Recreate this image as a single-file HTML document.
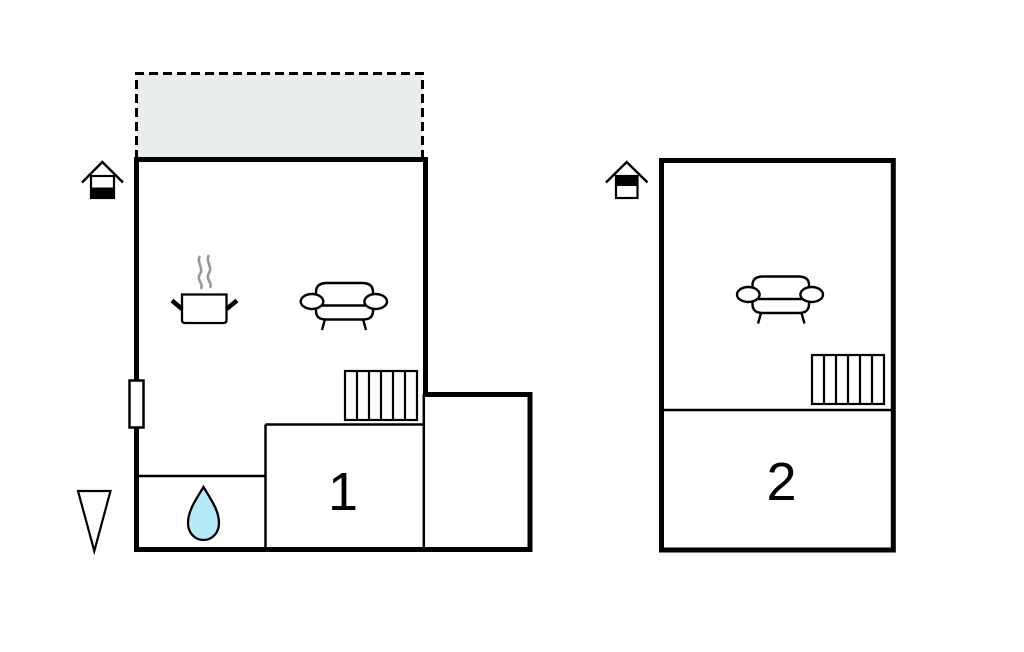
<!DOCTYPE html>
<html><head><meta charset="utf-8"><style>
html,body{margin:0;padding:0;background:#fff;}
svg{display:block;}
</style></head><body>
<svg width="1024" height="652" viewBox="0 0 1024 652" xmlns="http://www.w3.org/2000/svg">
<rect width="1024" height="652" fill="#fff"/>
<!-- terrace dashed -->
<rect x="136.5" y="73.5" width="286" height="86" fill="#e9eded" stroke="none"/>
<path d="M136.5 159 V73.5 H422.5 V159" fill="none" stroke="#000" stroke-width="3" stroke-dasharray="9,5"/>

<!-- building 1 thick walls -->
<g stroke="#000" stroke-width="5" fill="none" stroke-linecap="square">
<line x1="136.5" y1="159.5" x2="425.5" y2="159.5"/>
<line x1="136.5" y1="159.5" x2="136.5" y2="549.5"/>
<line x1="425.5" y1="159.5" x2="425.5" y2="394.5"/>
<line x1="425.5" y1="394.5" x2="530" y2="394.5"/>
<line x1="530" y1="394.5" x2="530" y2="549.5"/>
<line x1="136.5" y1="549.5" x2="530" y2="549.5"/>
</g>
<!-- thin interior -->
<g stroke="#000" stroke-width="2.5" fill="none">
<line x1="265.5" y1="424.5" x2="265.5" y2="549"/>
<line x1="265.5" y1="424.5" x2="424" y2="424.5"/>
<line x1="423.8" y1="394" x2="423.8" y2="549"/>
<line x1="137" y1="476" x2="265.5" y2="476"/>
</g>
<!-- window -->
<rect x="129.5" y="380.5" width="14" height="47" fill="#fff" stroke="#000" stroke-width="2.5"/>

<!-- stairs 1 -->
<g stroke="#000" stroke-width="2.2" fill="#fff">
<rect x="345" y="371" width="72" height="49"/>
<line x1="357" y1="371" x2="357" y2="420"/>
<line x1="369" y1="371" x2="369" y2="420"/>
<line x1="381" y1="371" x2="381" y2="420"/>
<line x1="393" y1="371" x2="393" y2="420"/>
<line x1="405" y1="371" x2="405" y2="420"/>
</g>

<!-- drop -->
<path d="M203.5 487 C197 498 188 510 188 523 C188 533 195 540 203.5 540 C212 540 219 533 219 523 C219 510 210 498 203.5 487 Z" fill="#b5ebf6" stroke="#000" stroke-width="2.3"/>

<!-- triangle -->
<path d="M78 491 H110.5 L94.3 551 Z" fill="#fff" stroke="#000" stroke-width="2.2"/>

<!-- home icon left -->
<path d="M82 182.5 L102.3 162 L123 182.5" fill="none" stroke="#000" stroke-width="2.4"/>
<rect x="91" y="176" width="23" height="22" fill="#fff" stroke="#000" stroke-width="2.2"/>
<rect x="90" y="187.5" width="25" height="11" fill="#000"/>

<!-- pot -->
<path d="M200 256 C196 262 204 268 200 274 C196 280 204 284 201 289" fill="none" stroke="#999" stroke-width="2.6"/>
<path d="M209 255 C205 261 213 267 209 273 C205 279 213 283 210 288" fill="none" stroke="#999" stroke-width="2.6"/>
<path d="M182 294.5 H226.5 V320 Q226.5 323 223.5 323 H185 Q182 323 182 320 Z" fill="#fff" stroke="#000" stroke-width="2.3"/>
<line x1="172" y1="300.5" x2="182" y2="309" stroke="#000" stroke-width="4.5"/>
<line x1="226.5" y1="309" x2="237" y2="300.5" stroke="#000" stroke-width="4.5"/>

<!-- sofa 1 -->
<g stroke="#000" stroke-width="2.4" fill="#fff">
<path d="M316 300 V292 Q316 283 327 283 H362 Q373 283 373 292 V300"/>
<path d="M316 300 V311 Q316 319.5 326 319.5 H363 Q373 319.5 373 311 V300"/>
<line x1="320" y1="305.5" x2="370" y2="305.5"/>
<line x1="325" y1="319" x2="322" y2="330"/>
<line x1="363" y1="319" x2="366" y2="330"/>
<ellipse cx="312" cy="301.5" rx="11.3" ry="7.5"/>
<ellipse cx="375.7" cy="301.5" rx="11.3" ry="7.5"/>
</g>

<text x="343" y="510" font-family="Liberation Sans, Arial, sans-serif" font-size="54" text-anchor="middle" fill="#000">1</text>

<!-- building 2 -->
<rect x="661.5" y="160.5" width="231.8" height="389.5" fill="none" stroke="#000" stroke-width="5"/>
<line x1="662" y1="410" x2="893" y2="410" stroke="#000" stroke-width="2.5"/>
<g stroke="#000" stroke-width="2.2" fill="#fff">
<rect x="812" y="355" width="72" height="49"/>
<line x1="824" y1="355" x2="824" y2="404"/>
<line x1="836" y1="355" x2="836" y2="404"/>
<line x1="848" y1="355" x2="848" y2="404"/>
<line x1="860" y1="355" x2="860" y2="404"/>
<line x1="872" y1="355" x2="872" y2="404"/>
</g>
<!-- sofa 2 -->
<g stroke="#000" stroke-width="2.4" fill="#fff">
<path d="M752.5 293 V285 Q752.5 276.5 763 276.5 H798.5 Q809 276.5 809 285 V293"/>
<path d="M752.5 293 V304 Q752.5 313 762.5 313 H799 Q809 313 809 304 V293"/>
<line x1="756" y1="299" x2="806" y2="299"/>
<line x1="761" y1="313" x2="758" y2="323.5"/>
<line x1="801.5" y1="313" x2="804.5" y2="323.5"/>
<ellipse cx="748.3" cy="294.5" rx="11.3" ry="7.5"/>
<ellipse cx="811.7" cy="294.5" rx="11.3" ry="7.5"/>
</g>
<text x="781.5" y="500" font-family="Liberation Sans, Arial, sans-serif" font-size="54" text-anchor="middle" fill="#000">2</text>

<!-- home icon right -->
<path d="M606 182.5 L626.7 162 L647.5 182.5" fill="none" stroke="#000" stroke-width="2.4"/>
<rect x="616" y="176" width="21.5" height="22" fill="#fff" stroke="#000" stroke-width="2.2"/>
<rect x="615" y="175" width="23.5" height="11" fill="#000"/>
</svg>
</body></html>
